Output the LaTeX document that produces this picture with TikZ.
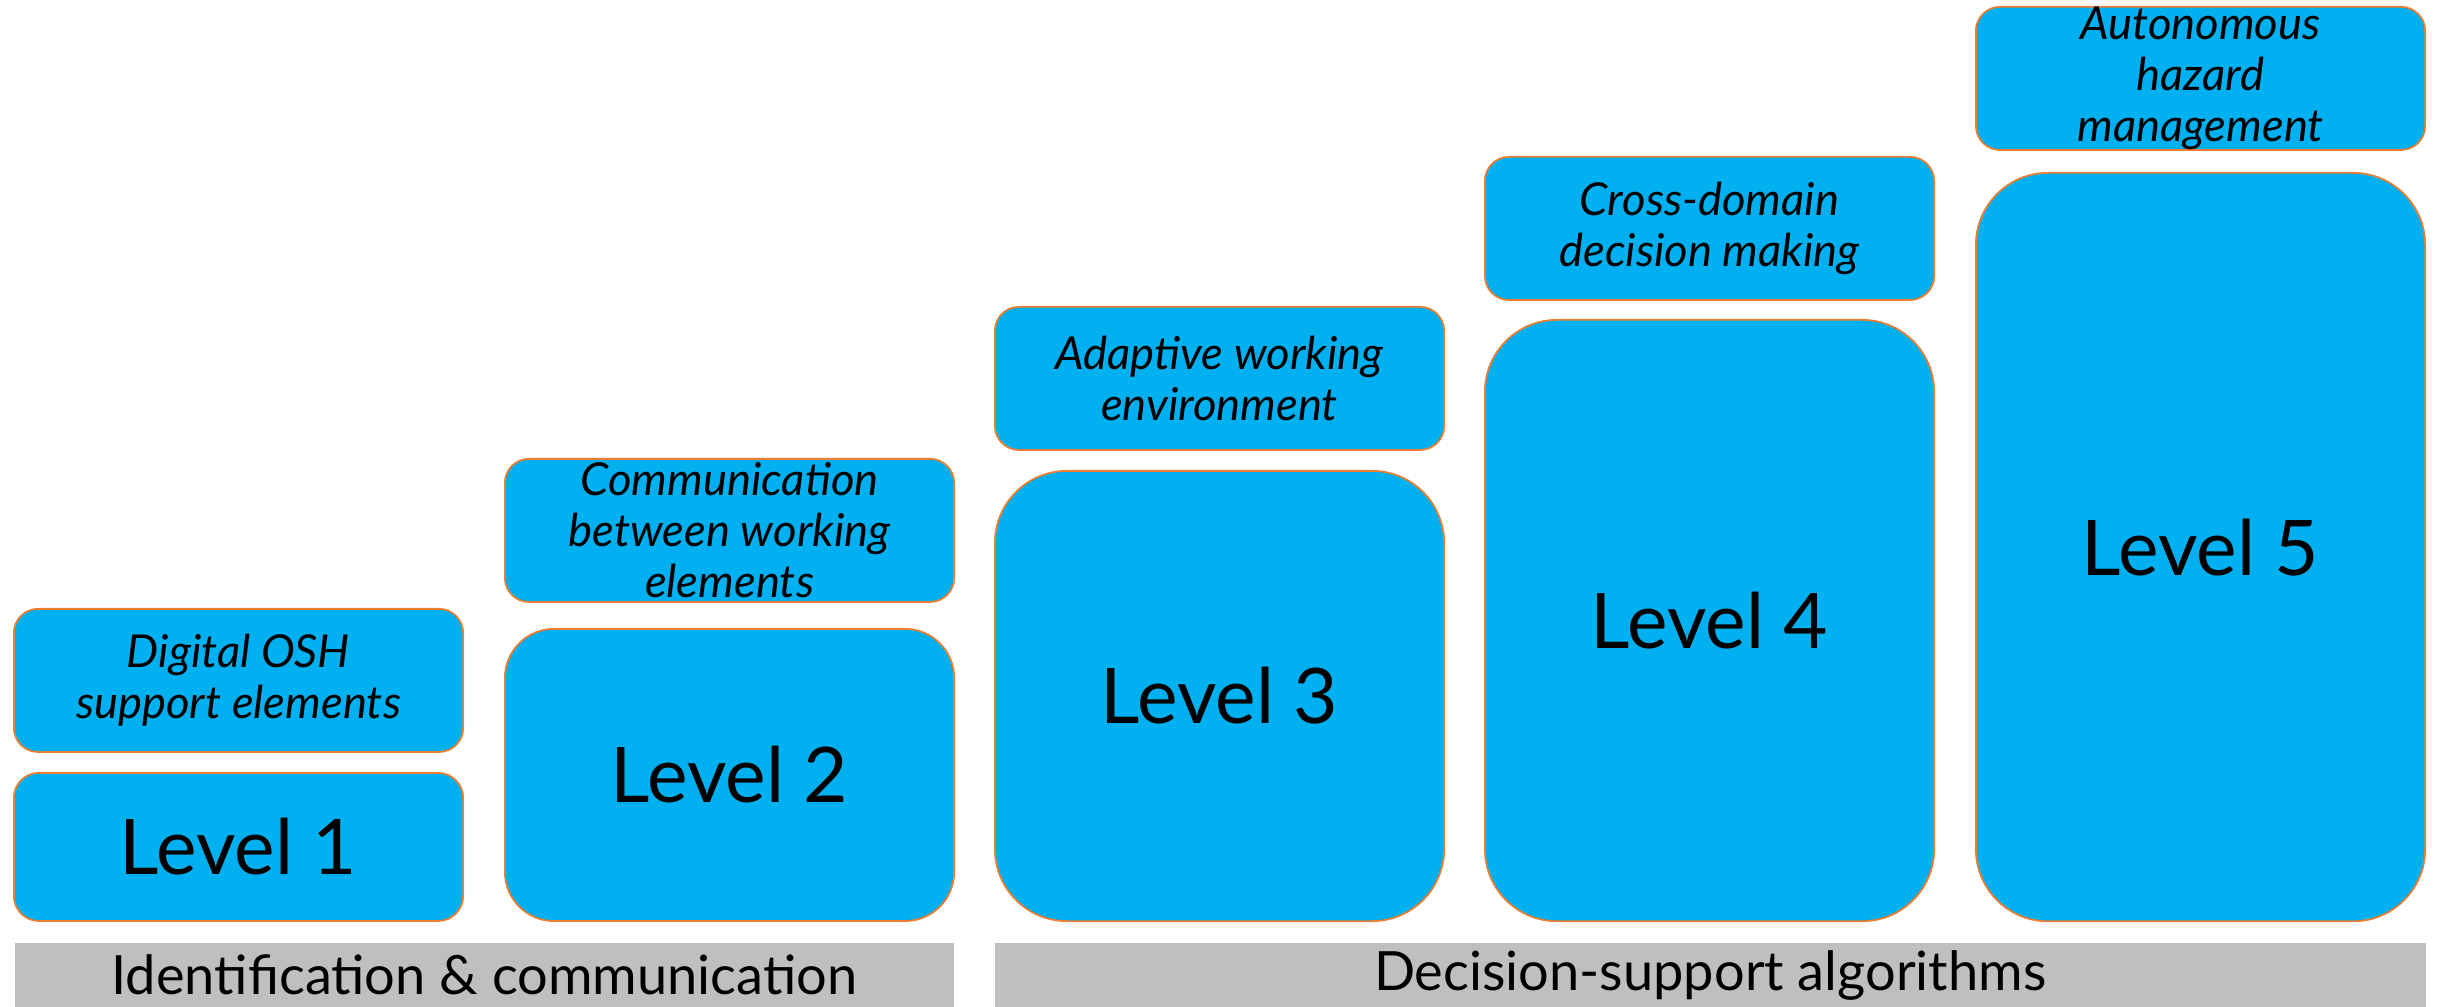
\documentclass[tikz,border=0pt]{standalone}
\usepackage{fontspec}
\setmainfont{Lato}
\usepackage{tikz}
\usetikzlibrary{positioning}
\definecolor{lvlblue}{HTML}{00B0F0}
\definecolor{lvledge}{HTML}{ED7D31}
\definecolor{bargray}{HTML}{BFBFBF}

\begin{document}
\begin{tikzpicture}[x=0.01cm, y=-0.01cm,
	box/.style={rectangle, draw=lvledge, line width=0.5pt, fill=lvlblue, anchor=north west, minimum width=4.49cm, inner sep=0pt},
	goal/.style={box, rounded corners=0.24cm, minimum height=1.43cm},
	level/.style={box, font=\fontsize{21.8}{26}\selectfont},
	goaltext/.style={align=center, inner sep=0pt, font=\fontsize{12.9}{14.5}\selectfont\itshape},
	bar/.style={rectangle, fill=bargray, anchor=north west, minimum height=0.65cm, inner sep=0pt, font=\fontsize{15.4}{19}\selectfont}]
	\useasboundingbox (0,0) rectangle (2437,1007);

	% the five levels, growing to the right
	\node[level, rounded corners=0.25cm, minimum height=1.48cm] (l1) at (13,772) {Level 1};
	\node[level, rounded corners=0.49cm, minimum height=2.92cm] (l2) at (504,628) {Level 2};
	\node[level, rounded corners=0.72cm, minimum height=4.50cm] (l3) at (994,470) {Level 3};
	\node[level, rounded corners=0.72cm, minimum height=6.01cm] (l4) at (1484,319) {Level 4};
	\node[level, rounded corners=0.72cm, minimum height=7.48cm] (l5) at (1975,172) {Level 5};

	% what each level adds
	\node[goal] (g1) at (13,608) {}; \node[goaltext] (g1t) at (g1.center) {Digital OSH\\support elements};
	\node[goal] (g2) at (504,458) {}; \node[goaltext] (g2t) at (g2.center) {Communication\\between working\\elements};
	\node[goal] (g3) at (994,306) {}; \node[goaltext] (g3t) at (g3.center) {Adaptive working\\environment};
	\node[goal] (g4) at (1484,156) {}; \node[goaltext] (g4t) at (g4.center) {Cross-domain\\decision making};
	\node[goal] (g5) at (1975,6) {}; \node[goaltext] (g5t) at (g5.center) {Autonomous\\hazard\\management};

	% groups underneath
	\node[bar, minimum width=9.39cm] (b1) at (14,942) {Identification \& communication};
	\node[bar, minimum width=14.30cm] (b2) at (994,942) {Decision-support algorithms};
\end{tikzpicture}
\end{document}
